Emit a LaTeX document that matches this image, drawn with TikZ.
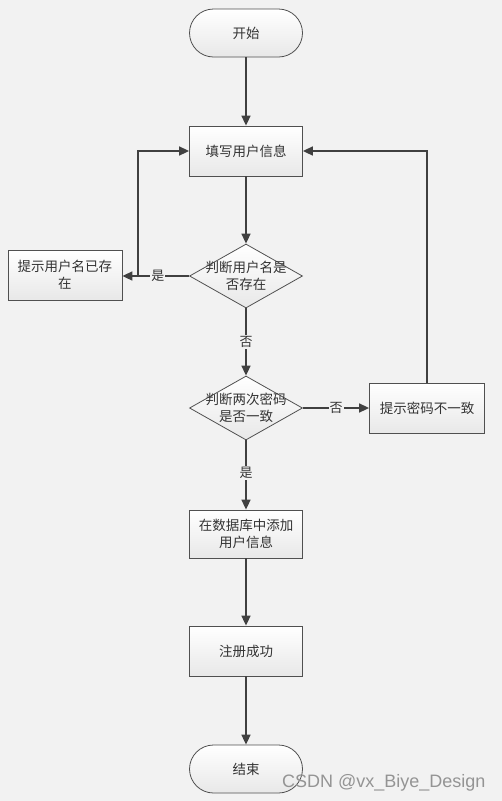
\documentclass[tikz,border=0pt]{standalone}
\usepackage{fontspec}
\setmainfont{Liberation Sans}
\newfontfamily\cjk{Noto Sans CJK SC}
\usetikzlibrary{shapes.geometric,arrows.meta,shadows}
\definecolor{bg}{HTML}{F2F2F2}
\definecolor{ln}{HTML}{404040}
\definecolor{bd}{HTML}{505050}
\tikzset{
  base/.style={draw=bd, line width=0.8pt, top color=white, bottom color=black!9,
    font=\cjk\fontsize{13.5}{17}\selectfont, text=black!80, align=center, inner sep=0pt},
  procbox/.style={base, rectangle, minimum width=113pt, minimum height=50pt, text width=105pt},
  termbox/.style={base, rectangle, rounded corners=24pt, minimum width=113pt, minimum height=48pt},
  decbox/.style={base, diamond, minimum width=113pt, minimum height=64pt},
  dectext/.style={font=\cjk\fontsize{13.5}{17}\selectfont, text=black!80, align=center, inner sep=0pt},
  conn/.style={draw=ln, line width=1.6pt, -{Triangle[length=10pt,width=9pt]}},
  lab/.style={fill=bg, font=\cjk\fontsize{13}{15}\selectfont, text=black!80, inner sep=1pt},
}
\begin{document}
\begin{tikzpicture}[x=1pt,y=-1pt]
\fill[bg] (0,0) rectangle (502,801);
\useasboundingbox (0,0) rectangle (502,801);
\node[termbox] (start) at (246,33) {开始};
\node[procbox] (fill) at (246,151) {填写用户信息};
\node[decbox] (d1) at (246,276) {};
\node[dectext] (d1t) at (d1) {判断用户名是\\否存在};
\node[procbox, minimum width=114pt] (exist) at (65,275) {提示用户名已存\\在};
\node[decbox] (d2) at (246,408) {};
\node[dectext] (d2t) at (d2) {判断两次密码\\是否一致};
\node[procbox, minimum width=115pt] (mis) at (427,408) {提示密码不一致};
\node[procbox, minimum height=48pt] (add) at (246,534) {在数据库中添加\\用户信息};
\node[procbox] (ok) at (246,651) {注册成功};
\node[termbox] (end) at (246,769) {结束};
\coordinate (c1) at (138,276);
\coordinate (c2) at (138,151);
\coordinate (c3) at (427,151);

\draw[conn] (start) -- (fill);
\draw[conn] (fill) -- (d1);
\draw[conn] (d1.west) -- node[lab, pos=0.47] {是} (exist.east |- d1.west);
\draw[conn] (c1) -- (c2) -- (fill.west);
\draw[conn] (d1) -- node[lab, pos=0.5] {否} (d2);
\draw[conn] (d2.east) -- node[lab, pos=0.5] {否} (mis.west);
\draw[conn] (mis.north) -- (c3) -- (fill.east);
\draw[conn] (d2) -- node[lab, pos=0.47] {是} (add);
\draw[conn] (add) -- (ok);
\draw[conn] (ok) -- (end);

\node[font=\fontsize{18}{20}\selectfont, text=black!42, anchor=base east] (wm) at (489,787) {CSDN @vx\_Biye\_Design};
\end{tikzpicture}
\end{document}
